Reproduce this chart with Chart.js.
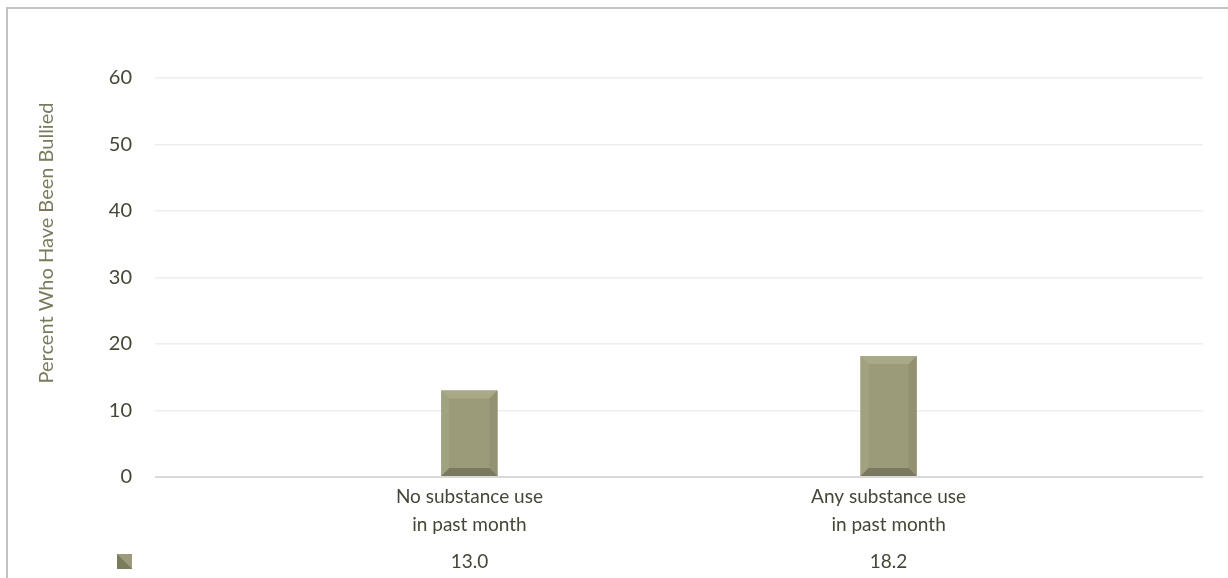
<!DOCTYPE html>
<html>
<head>
<meta charset="utf-8">
<script src="https://cdn.jsdelivr.net/npm/chart.js@4.4.1/dist/chart.umd.min.js"></script>
<style>
  html, body { margin: 0; padding: 0; background: #fff; }
  #wrap { position: absolute; left: 0; top: 0; width: 1228px; height: 578px; }
</style>
</head>
<body>
<div id="wrap"><canvas id="chart" width="1228" height="578"></canvas></div>
<script>
// datos del gráfico
const categorias = [['No substance use', 'in past month'], ['Any substance use', 'in past month']];
const porcentajes = [13.0, 18.2];
const ticksY = [0, 10, 20, 30, 40, 50, 60];
const tituloY = 'Percent Who Have Been Bullied';

const COLOR_TEXTO = '#464637';
const FUENTE = 'Lato, "Open Sans", sans-serif';

// marco, etiquetas de categoría y tabla de datos
const extras = {
  id: 'extras',
  beforeDraw(chart) {
    const ctx = chart.ctx;
    ctx.save();
    ctx.fillStyle = '#fff';
    ctx.fillRect(0, 0, chart.width, chart.height);
    ctx.strokeStyle = '#c3c3c3';
    ctx.lineWidth = 2;
    ctx.beginPath();
    ctx.moveTo(7, chart.height);
    ctx.lineTo(7, 8);
    ctx.lineTo(chart.width, 8);
    ctx.stroke();
    ctx.restore();
  },
  afterDatasetsDraw(chart) {
    const ctx = chart.ctx;
    const meta = chart.getDatasetMeta(0);
    // bisel de las barras
    meta.data.forEach(bar => {
      const l = bar.x - bar.width / 2, r = bar.x + bar.width / 2;
      const t = bar.y, b = bar.base;
      const d = Math.min(8, bar.width / 4, (b - t) / 4);
      const cara = (pts, color) => {
        ctx.beginPath();
        ctx.moveTo(pts[0][0], pts[0][1]);
        pts.slice(1).forEach(p => ctx.lineTo(p[0], p[1]));
        ctx.closePath();
        ctx.fillStyle = color;
        ctx.fill();
      };
      ctx.save();
      cara([[l, t], [r, t], [r - d, t + d], [l + d, t + d]], '#a9a887');
      cara([[l, t], [l + d, t + d], [l + d, b - d], [l, b]], '#a2a180');
      cara([[r, t], [r, b], [r - d, b - d], [r - d, t + d]], '#929172');
      cara([[l, b], [l + d, b - d], [r - d, b - d], [r, b]], '#7a795f');
      ctx.restore();
    });

    const xs = chart.scales.x;
    ctx.save();
    ctx.fillStyle = COLOR_TEXTO;
    ctx.font = '19px ' + FUENTE;
    ctx.textAlign = 'center';
    ctx.textBaseline = 'middle';
    categorias.forEach((lineas, i) => {
      const px = xs.getPixelForValue(i);
      lineas.forEach((txt, k) => ctx.fillText(txt, px, 497 + k * 28));
      ctx.fillText(porcentajes[i].toFixed(1), px, 562);
    });

    // clave de la serie en la tabla
    const kx = 117, ky = 554, ks = 15;
    ctx.fillStyle = '#9b9a79';
    ctx.fillRect(kx, ky, ks, ks);
    ctx.fillStyle = '#7a7a5d';
    ctx.beginPath();
    ctx.moveTo(kx, ky + ks); ctx.lineTo(kx + ks / 2, ky + ks / 2); ctx.lineTo(kx + ks, ky + ks);
    ctx.closePath(); ctx.fill();
    ctx.beginPath();
    ctx.moveTo(kx, ky); ctx.lineTo(kx + ks / 2, ky + ks / 2); ctx.lineTo(kx, ky + ks);
    ctx.closePath(); ctx.fill();

    // título del eje Y
    ctx.translate(47, 243);
    ctx.rotate(-Math.PI / 2);
    ctx.font = '20px ' + FUENTE;
    ctx.fillText(tituloY, 0, 0);
    ctx.restore();
  }
};

new Chart(document.getElementById('chart'), {
  type: 'bar',
  data: {
    datasets: [{
      data: porcentajes.map((v, i) => ({ x: i, y: v })),
      backgroundColor: '#9b9a79',
      borderWidth: 0,
      barPercentage: 0.134,
      categoryPercentage: 1
    }]
  },
  options: {
    responsive: false,
    animation: false,
    layout: { padding: { top: 78, right: 25, bottom: 101, left: 0 } },
    plugins: { legend: { display: false }, tooltip: { enabled: false } },
    scales: {
      x: {
        type: 'linear', display: false, offset: false, min: -0.75, max: 1.75,
        afterBuildTicks(s) { s.ticks = porcentajes.map((v, i) => ({ value: i })); }
      },
      y: {
        min: 0,
        max: 60,
        afterFit(s) { s.width = 155; },
        afterBuildTicks(s) { s.ticks = ticksY.map(v => ({ value: v })); },
        border: { display: false },
        grid: {
          drawTicks: false,
          color: c => c.tick && c.tick.value === 0 ? '#d9d9d9' : '#eeeeee',
          lineWidth: c => c.tick && c.tick.value === 0 ? 2 : 1.5
        },
        ticks: { color: COLOR_TEXTO, font: { size: 20, family: FUENTE }, padding: 23 }
      }
    }
  },
  plugins: [extras]
});
</script>
</body>
</html>
